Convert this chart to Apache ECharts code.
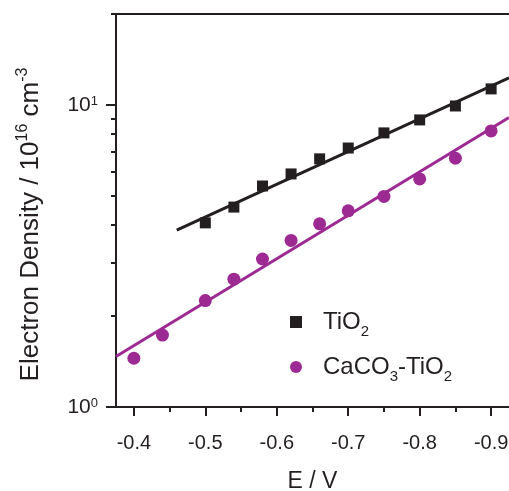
<!DOCTYPE html>
<html>
<head>
<meta charset="utf-8">
<script src="https://cdn.jsdelivr.net/npm/echarts@6/dist/echarts.min.js"></script>
<style>
  html, body { margin: 0; padding: 0; background: #fff; }
  #main { width: 509px; height: 491px; }
</style>
</head>
<body>
<div id="main"></div>
<script>
// measured points, E in V and density in 1e16 cm^-3
const tio2X = [-0.50, -0.54, -0.58, -0.62, -0.66, -0.70, -0.75, -0.80, -0.85, -0.90];
const tio2Y = [4.07, 4.59, 5.39, 5.91, 6.63, 7.20, 8.08, 8.92, 9.92, 11.3];
const cacoX = [-0.40, -0.44, -0.50, -0.54, -0.58, -0.62, -0.66, -0.70, -0.75, -0.80, -0.85, -0.90];
const cacoY = [1.45, 1.73, 2.25, 2.65, 3.09, 3.56, 4.04, 4.46, 4.98, 5.69, 6.66, 8.20];

// fitted lines (end points)
const tio2FitX = [-0.46, -0.925];
const tio2FitY = [3.85, 12.3];
const cacoFitX = [-0.375, -0.925];
const cacoFitY = [1.47, 9.09];

// ticks
const xMajor = [-0.4, -0.5, -0.6, -0.7, -0.8, -0.9];
const xMinor = [-0.45, -0.55, -0.65, -0.75, -0.85];
const yMajor = [1, 10];
const yMinor = [2, 3, 4, 5, 6, 7, 8, 9, 20];

const ink = '#231f20';
const purple = '#9c2a92';
const font = 'Liberation Sans, Arial, Helvetica, sans-serif';

const zip = (xs, ys) => xs.map((x, i) => [x, ys[i]]);

const chart = echarts.init(document.getElementById('main'));

const titleRich = {
  b: { fontSize: 26, fontFamily: font, color: ink },
  sup: { fontSize: 16, fontFamily: font, color: ink, verticalAlign: 'top', lineHeight: 22 }
};
const legendRich = {
  b: { fontSize: 24, fontFamily: font, color: ink },
  sub: { fontSize: 15, fontFamily: font, color: ink, verticalAlign: 'bottom', lineHeight: 34 }
};

const option = {
  animation: false,
  grid: { left: 116, right: 0, top: 14, bottom: 84, outerBoundsMode: 'none', containLabel: false },
  xAxis: [
    {
      type: 'value', min: -0.925, max: -0.375, inverse: true,
      name: 'E / V', nameLocation: 'middle', nameGap: 63,
      nameTextStyle: { fontSize: 23, fontFamily: font, color: ink },
      axisLine: { lineStyle: { color: ink, width: 2 } },
      axisTick: { customValues: xMajor, length: 9, lineStyle: { color: ink, width: 2 } },
      axisLabel: {
        customValues: xMajor, margin: 26, fontSize: 20, fontFamily: font, color: ink,
        formatter: v => v.toFixed(1)
      },
      splitLine: { show: false }
    },
    {
      type: 'value', min: -0.925, max: -0.375, inverse: true, position: 'bottom',
      axisLine: { show: false },
      axisTick: { customValues: xMinor, length: 5, lineStyle: { color: ink, width: 2 } },
      axisLabel: { show: false },
      splitLine: { show: false }
    },
    {
      type: 'value', min: -0.925, max: -0.375, inverse: true, position: 'top',
      axisLine: { lineStyle: { color: ink, width: 2 } },
      axisTick: { show: false },
      axisLabel: { show: false },
      splitLine: { show: false }
    }
  ],
  yAxis: [
    {
      type: 'log', logBase: 10, min: 1, max: 20,
      name: '{b|Electron Density / 10}{sup|16}{b| cm}{sup|-3}',
      nameLocation: 'middle', nameGap: 69,
      nameTextStyle: { fontSize: 26, fontFamily: font, color: ink, lineHeight: 32, padding: [0, 28, 0, 0], rich: titleRich },
      axisLine: { lineStyle: { color: ink, width: 2 } },
      axisTick: { customValues: yMajor, length: 10, lineStyle: { color: ink, width: 2 } },
      axisLabel: {
        customValues: yMajor, margin: 18, fontSize: 21, fontFamily: font, color: ink,
        formatter: v => '{b|10}{sup|' + Math.round(Math.log10(v)) + '}',
        rich: {
          b: { fontSize: 21, fontFamily: font, color: ink },
          sup: { fontSize: 13, fontFamily: font, color: ink, verticalAlign: 'top', lineHeight: 20 }
        }
      },
      splitLine: { show: false }
    },
    {
      type: 'log', logBase: 10, min: 1, max: 20, position: 'left',
      axisLine: { show: false },
      axisTick: { customValues: yMinor, length: 5, lineStyle: { color: ink, width: 2 } },
      axisLabel: { show: false },
      splitLine: { show: false }
    }
  ],
  legend: {
    orient: 'vertical', left: 285, top: 300, itemGap: 11,
    itemWidth: 12, itemHeight: 12,
    data: [
      { name: 'TiO2', icon: 'rect' },
      { name: 'CaCO3-TiO2', icon: 'circle' }
    ],
    formatter: n => n === 'TiO2' ? '{b|TiO}{sub|2}' : '{b|CaCO}{sub|3}{b|-TiO}{sub|2}',
    textStyle: { fontSize: 24, fontFamily: font, color: ink, padding: [0, 0, 0, 16], lineHeight: 34, rich: legendRich }
  },
  series: [
    {
      name: 'TiO2 fit', type: 'line', data: zip(tio2FitX, tio2FitY),
      showSymbol: false, lineStyle: { color: ink, width: 3 }, clip: true
    },
    {
      name: 'CaCO3-TiO2 fit', type: 'line', data: zip(cacoFitX, cacoFitY),
      showSymbol: false, lineStyle: { color: purple, width: 3 }, clip: true
    },
    {
      name: 'TiO2', type: 'scatter', data: zip(tio2X, tio2Y),
      symbol: 'rect', symbolSize: 11, itemStyle: { color: ink, opacity: 1 }
    },
    {
      name: 'CaCO3-TiO2', type: 'scatter', data: zip(cacoX, cacoY),
      symbol: 'circle', symbolSize: 13, itemStyle: { color: purple, opacity: 1 }
    }
  ]
};

chart.setOption(option);
</script>
</body>
</html>
